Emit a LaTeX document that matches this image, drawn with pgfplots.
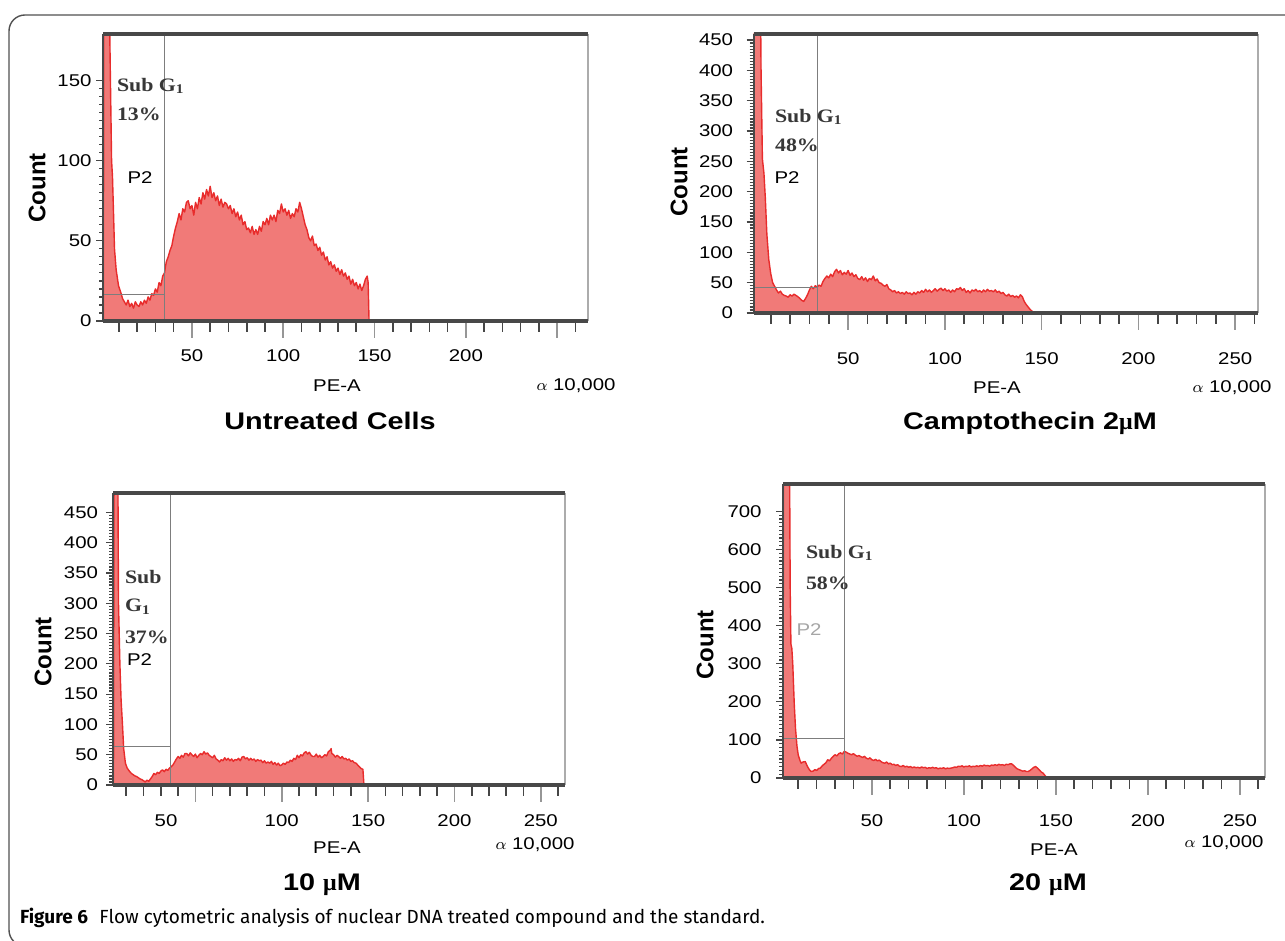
\documentclass[border=0pt]{standalone}
\usepackage{fontspec}
\setmainfont{Liberation Sans}
\newfontfamily\chartfont[FakeStretch=1.2]{Liberation Sans}
\newfontfamily\gatefont[FakeStretch=1.15]{Liberation Serif}
\newfontfamily\greek{Liberation Serif}
\newfontfamily\capfont{Fira Sans}
\usepackage{pgfplots}
\pgfplotsset{compat=1.18}

\definecolor{histfill}{RGB}{241,122,120}
\definecolor{histline}{RGB}{232,44,44}
\definecolor{boxdark}{RGB}{72,72,72}
\definecolor{boxgray}{RGB}{172,172,172}
\definecolor{gatecol}{RGB}{125,125,125}
\definecolor{tickgray}{RGB}{150,150,150}
\definecolor{tickdark}{RGB}{70,70,70}
\definecolor{txtdark}{RGB}{55,55,55}
\definecolor{framecol}{RGB}{80,80,80}

\newcommand{\ticks}{\chartfont\fontsize{8.5}{10}\selectfont}
\newcommand{\lab}{\chartfont\fontsize{8.5}{10}\selectfont}
\newcommand{\ttl}{\chartfont\fontsize{12}{14}\selectfont\bfseries}
\newcommand{\cnt}{\fontsize{12}{14}\selectfont\bfseries}
\newcommand{\sg}{\gatefont\fontsize{9.5}{11}\selectfont\bfseries}

\pgfplotsset{
  flow/.style={
    scale only axis, clip mode=individual,
    axis line style={draw=none},
    tick align=outside, xtick pos=bottom, ytick pos=left,
    xtick={50,100,150,200,250},
    xtick style={draw=none},
    major tick length=3.5pt, minor tick length=2pt,
    ytick style={draw=tickdark, line width=0.6pt},
    minor y tick num=9,
    ymin=0,
    tick label style={font=\ticks},
    /pgf/number format/assume math mode=true,
    scaled ticks=false,
  },
  hist/.style={fill=histfill, draw=histline, line width=0.7pt, line join=round},
}
% x ticks drawn by hand: long grey majors, short dark minors
\newcommand{\xticksdraw}{%
  \pgfplotsinvokeforeach{10,20,30,40,60,70,80,90,110,120,130,140,160,170,180,190,210,220,230,240,260}{%
    \draw[tickdark, line width=0.8pt] (axis cs:##1,0) -- ++(0pt,-5.5pt);}%
  \pgfplotsinvokeforeach{50,100,150,200,250}{%
    \draw[tickgray, line width=0.8pt] (axis cs:##1,0) -- ++(0pt,-8.5pt);}}
\newcommand{\flowbox}{%
  \draw[boxgray, line width=1pt] (rel axis cs:1,0) -- (rel axis cs:1,1);
  \draw[boxdark, line width=1pt] (rel axis cs:0,0) -- (rel axis cs:0,1);
  \draw[boxdark, line width=1.6pt] (rel axis cs:0,1) -- (rel axis cs:1,1);
  \draw[boxdark, line width=1.6pt] (rel axis cs:0,0) -- (rel axis cs:1,0);}

\begin{document}
\begin{tikzpicture}
% Untreated cells
\begin{axis}[flow, at={(51.5pt,310pt)}, anchor=south west,
  width=242.5pt, height=143.5pt,
  xmin=1.3, xmax=266.9, ymax=179,
  xticklabels={50,100,150,200,{}},
  ytick={0,50,100,150},
  xticklabel style={yshift=-7.3pt}, yticklabel style={xshift=1.3pt}]
\addplot[hist] coordinates {
(1.5,0) (2,400) (4.5,400) (5,180) (6,100) (6.5,90) (7,70) (7.6,45) (8.5,32) (9.8,22)
(11,18) (12,14) (13,12) (14,10) (15,13) (16,9) (17,11) (18,8) (19,12) (20,10)
(21,9) (22,12) (23,10) (24,13) (25,11) (26,15) (27,13) (28,17) (29,16) (30,20)
(31,18) (32,24) (33,22) (34,28) (35,30) (35.5,34) (36,37) (37,40) (38,44) (39,47)
(40,53) (41,58) (42,62) (43,67) (44,63) (45,70) (46,68) (47,74) (48,75) (49,70)
(50,72) (51,66) (52,74) (53,70) (54,77) (55,73) (56,80) (57,76) (58,82) (59,78)
(60,84) (61,77) (62,80) (63,75) (64,78) (65,72) (66,76) (67,71) (68,74) (69,73)
(70,70) (71,72) (72,67) (73,70) (74,65) (75,68) (76,63) (77,66) (78,60) (79,62)
(80,57) (81,58) (82,55) (83,59) (84,54) (85,57) (86,54) (87,59) (88,56) (89,62)
(90,60) (91,64) (92,60) (93,66) (94,63) (95,66) (96,62) (97,69) (98,67) (99,73)
(100,68) (101,70) (102,66) (103,69) (104,64) (105,67) (106,65) (107,70) (108,68) (109,74)
(110,70) (111,65) (112,60) (113,57) (114,52) (115,50) (116,53) (117,47) (118,48) (119,44)
(120,46) (121,41) (122,43) (123,38) (124,40) (125,35) (126,37) (127,33) (128,35) (129,31)
(130,33) (131,29) (132,32) (133,28) (134,30) (135,26) (136,28) (137,23) (138,26) (139,22)
(140,24) (141,20) (142,23) (143,19) (144,22) (145,26) (146,28) (146.5,24) (147,0)
} \closedcycle;
\draw[gatecol, line width=0.6pt] (axis cs:35,0) -- (axis cs:35,179);
\draw[gatecol, line width=0.6pt] (axis cs:1.3,16.5) -- (axis cs:35,16.5);
\xticksdraw
\flowbox
\end{axis}

% Camptothecin 2 uM
\begin{axis}[flow, at={(376.75pt,314pt)}, anchor=south west,
  width=252.25pt, height=139.5pt,
  xmin=1.1, xmax=261.8, ymax=460,
  ytick={0,50,...,450},
  xticklabel style={yshift=-12.8pt}, yticklabel style={xshift=-3.2pt}]
\addplot[hist] coordinates {
(1.1,0) (1.5,600) (4.5,600) (5,400) (5.7,254) (6.5,230) (7.2,190) (8,130) (9,88) (10,65)
(11,50) (12,44) (13,38) (14,33) (15,36) (16,31) (17,29) (18,28) (19,26) (20,30)
(21,28) (22,31) (23,29) (24,27) (25,24) (26,21) (27,19) (28,24) (29,30) (30,38)
(31,44) (32,40) (33,45) (34,43) (35,46) (36,44) (37,52) (38,57) (39,61) (40,58)
(41,64) (42,60) (43,68) (44,72) (45,66) (46,70) (47,63) (48,67) (49,64) (50,70)
(51,62) (52,66) (53,60) (54,63) (55,57) (56,55) (57,60) (58,54) (59,58) (60,52)
(61,57) (62,55) (63,61) (64,53) (65,56) (66,50) (67,49) (68,46) (69,44) (70,47)
(71,40) (72,38) (73,35) (74,37) (75,33) (76,35) (77,32) (78,34) (79,31) (80,35)
(81,32) (82,33) (83,30) (84,34) (85,31) (86,35) (87,33) (88,37) (89,34) (90,39)
(91,35) (92,38) (93,34) (94,37) (95,40) (96,36) (97,39) (98,41) (99,37) (100,40)
(101,36) (102,38) (103,34) (104,38) (105,35) (106,40) (107,39) (108,42) (109,37) (110,40)
(111,34) (112,37) (113,33) (114,38) (115,36) (116,39) (117,35) (118,37) (119,34) (120,38)
(121,35) (122,39) (123,36) (124,37) (125,35) (126,38) (127,34) (128,36) (129,32) (130,34)
(131,30) (132,28) (133,31) (134,27) (135,29) (136,26) (137,28) (138,25) (139,30) (140,27)
(141,19) (142,14) (143,10) (144,6) (145,3) (146,1) (147,0)
} \closedcycle;
\draw[gatecol, line width=0.6pt] (axis cs:34,0) -- (axis cs:34,460);
\draw[gatecol, line width=0.6pt] (axis cs:1.1,42) -- (axis cs:34,42);
\xticksdraw
\flowbox
\end{axis}

% 10 uM
\begin{axis}[flow, at={(56.75pt,78pt)}, anchor=south west,
  width=225.75pt, height=146pt,
  xmin=2.6, xmax=264, ymax=482,
  xtick={33,100,150,200,250}, xticklabels={50,100,150,200,250},
  ytick={0,50,...,450},
  xticklabel style={yshift=-7.8pt}, yticklabel style={xshift=-0.7pt}]
\addplot[hist] coordinates {
(2.6,0) (3,600) (5,600) (5.5,300) (6.3,200) (7,140) (7.8,100) (8.5,60) (9.5,36) (10.5,28)
(12,22) (13,19) (14,17) (15,15) (16,14) (17,12) (18,10) (19,9) (20,7) (21,5)
(22,8) (23,6) (24,10) (25,14) (26,19) (27,17) (28,21) (29,19) (30,23) (31,25)
(32,22) (33,26) (34,24) (35,28) (36,30) (37,33) (38,38) (39,43) (40,47) (41,44)
(42,49) (43,46) (44,52) (45,52) (46,48) (47,53) (48,50) (49,47) (50,51) (51,45)
(52,49) (53,52) (54,50) (55,55) (56,51) (57,53) (58,49) (59,47) (60,45) (61,49)
(62,43) (63,41) (64,38) (65,42) (66,40) (67,45) (68,41) (69,44) (70,40) (71,43)
(72,39) (73,42) (74,41) (75,44) (76,40) (77,46) (78,47) (79,43) (80,45) (81,41)
(82,44) (83,41) (84,43) (85,39) (86,42) (87,40) (88,41) (89,37) (90,40) (91,36)
(92,38) (93,36) (94,39) (95,34) (96,37) (97,33) (98,36) (99,32) (100,33) (101,36)
(102,34) (103,38) (104,37) (105,41) (106,39) (107,44) (108,42) (109,49) (110,45) (111,50)
(112,48) (113,53) (114,55) (115,51) (116,54) (117,49) (118,47) (119,47) (120,51) (121,46)
(122,49) (123,45) (124,47) (125,50) (126,48) (127,55) (128,57) (128.6,60) (129,52) (130,50)
(131,46) (132,49) (133,47) (134,44) (135,47) (136,43) (137,44) (138,41) (139,43) (140,39)
(141,40) (142,37) (143,36) (144,33) (145,30) (146,27) (147,26) (147.6,0)
} \closedcycle;
\draw[gatecol, line width=0.6pt] (axis cs:35.6,0) -- (axis cs:35.6,482);
\draw[gatecol, line width=0.6pt] (axis cs:2.6,64) -- (axis cs:35.6,64);
\xticksdraw
\flowbox
\end{axis}

% 20 uM
\begin{axis}[flow, at={(391.5pt,81.5pt)}, anchor=south west,
  width=240.75pt, height=147pt,
  xmin=1.7, xmax=263.4, ymax=772,
  ytick={0,100,...,700},
  xticklabel style={yshift=-11.3pt}, yticklabel style={xshift=-3.7pt}]
\addplot[hist] coordinates {
(1.7,0) (2,900) (5.2,900) (5.6,500) (6,352) (6.5,340) (7,300) (7.8,196) (8.5,130) (9.3,83)
(10,60) (11,45) (11.6,39) (12.5,42) (13.8,43) (15,30) (16,22) (17,17) (18,18) (19,22)
(20,20) (21,25) (22,26) (23,32) (24,36) (25,40) (26,48) (27,45) (28,52) (29,57)
(30,61) (31,58) (32,64) (33,66) (34,63) (35,70) (36,68) (37,65) (38,63) (39,61)
(40,64) (41,60) (42,57) (43,59) (44,56) (45,54) (46,57) (47,52) (48,50) (49,53)
(50,48) (51,46) (52,49) (53,45) (54,47) (55,43) (56,40) (57,39) (58,42) (59,37)
(60,39) (61,35) (62,36) (63,33) (64,35) (65,31) (66,30) (67,33) (68,29) (69,31)
(70,28) (71,30) (72,27) (73,29) (74,27) (75,28) (76,26) (77,29) (78,27) (79,28)
(80,25) (81,27) (82,26) (83,28) (84,26) (85,27) (86,24) (87,26) (88,25) (89,27)
(90,24) (91,26) (92,25) (93,26) (94,27) (95,29) (96,28) (97,31) (98,30) (99,32)
(100,29) (101,31) (102,30) (103,32) (104,29) (105,31) (106,30) (107,32) (108,30) (109,33)
(110,31) (111,34) (112,32) (113,33) (114,31) (115,34) (116,33) (117,35) (118,33) (119,36)
(120,34) (121,35) (122,33) (123,36) (124,35) (125,37) (126,37) (127,33) (128,28) (129,24)
(130,22) (131,20) (132,18) (133,19) (134,17) (135,17) (136,20) (137,24) (138,28) (139,30)
(140,26) (141,21) (142,16) (143,13) (144,7) (145,2) (145.5,0)
} \closedcycle;
\draw[gatecol, line width=0.6pt] (axis cs:35,0) -- (axis cs:35,772);
\draw[gatecol, line width=0.6pt] (axis cs:1.7,104) -- (axis cs:35,104);
\xticksdraw
\flowbox
\end{axis}

\begin{scope}[x=0.5pt, y=-0.5pt, shift={(0pt,470.5pt)}]
\draw[framecol, line width=0.7pt, rounded corners=8pt] (1300,946) -- (9,946) -- (9,15) -- (1300,15);
% panel texts
\node[rotate=90, font=\cnt] at (37,188) {Count};
\node[font=\sg, txtdark, anchor=west] at (110,86) {Sub G\textsubscript{1}};
\node[font=\sg, txtdark, anchor=west] at (110,114) {13\%};
\node[font=\lab] at (140,178) {P2};
\node[font=\lab] at (337,386) {PE-A};
\node[font=\lab] at (576,386) {$\alpha$ 10,000};
\node[font=\ttl] at (330,421) {Untreated Cells};

\node[rotate=90, font=\cnt] at (679,182) {Count};
\node[font=\sg, txtdark, anchor=west] at (768,117) {Sub G\textsubscript{1}};
\node[font=\sg, txtdark, anchor=west] at (768,145) {48\%};
\node[font=\lab] at (787,178) {P2};
\node[font=\lab] at (997,388) {PE-A};
\node[font=\lab] at (1232,388) {$\alpha$ 10,000};
\node[font=\ttl] at (1030,423) {Camptothecin 2{\greek μ}M};

\node[rotate=90, font=\cnt] at (43,652) {Count};
\node[font=\sg, txtdark, anchor=west] at (118,577) {Sub};
\node[font=\sg, txtdark, anchor=west] at (118,607) {G\textsubscript{1}};
\node[font=\sg, txtdark, anchor=west] at (118,637) {37\%};
\node[font=\lab, anchor=west] at (120,660) {P2};
\node[font=\lab] at (337,848) {PE-A};
\node[font=\lab] at (535,845) {$\alpha$ 10,000};
\node[font=\ttl] at (322,885) {10 {\greek μ}M};

\node[rotate=90, font=\cnt] at (705,645) {Count};
\node[font=\sg, txtdark, anchor=west] at (799,553) {Sub G\textsubscript{1}};
\node[font=\sg, txtdark, anchor=west] at (799,583) {58\%};
\node[font=\lab, gray!70] at (809,630) {P2};
\node[font=\lab] at (1054,850) {PE-A};
\node[font=\lab] at (1224,843) {$\alpha$ 10,000};
\node[font=\ttl] at (1048,885) {20 {\greek μ}M};

\node[anchor=west, font=\capfont\fontsize{9.5}{11}\selectfont] at (13,918)
  {\textbf{Figure 6}\hspace{0.6em}Flow cytometric analysis of nuclear DNA treated compound and the standard.};
\pgfresetboundingbox
\useasboundingbox (0,0) rectangle (1285,941);
\end{scope}
\end{tikzpicture}
\end{document}
